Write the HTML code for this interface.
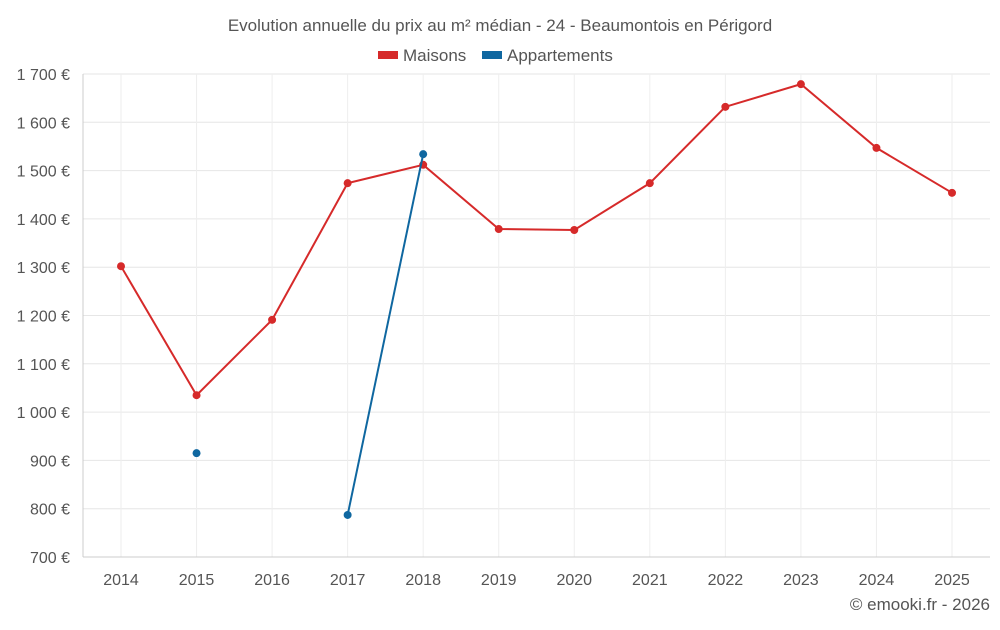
<!DOCTYPE html>
<html><head><meta charset="utf-8"><style>
body{margin:0;background:#fff;font-family:"Liberation Sans",sans-serif;}
svg text{font-family:"Liberation Sans",sans-serif;}
</style></head><body>
<svg id="chart" width="1000" height="625">
<text x="500" y="31" text-anchor="middle" font-size="17" fill="#555">Evolution annuelle du prix au m² médian - 24 - Beaumontois en Périgord</text>
<g>
<g><rect x="378" y="51" width="20" height="8" fill="#d62a2a"/><text x="403" y="61" font-size="17" fill="#555">Maisons</text></g>
<g><rect x="482" y="51" width="20" height="8" fill="#0f67a0"/><text x="507" y="61" font-size="17" fill="#555">Appartements</text></g>
</g>
<g id="grid"></g><g id="axes"></g><g id="series"></g>
<text x="990" y="610" text-anchor="end" font-size="17" fill="#555">© emooki.fr - 2026</text>
</svg>
<script>
const years=[2014,2015,2016,2017,2018,2019,2020,2021,2022,2023,2024,2025];
const maisons=[1302,1035,1191,1474,1512,1379,1377,1474,1632,1679,1547,1454];
const appartements=[null,915,null,787,1534,null,null,null,null,null,null,null];
const yTicks=[700,800,900,1000,1100,1200,1300,1400,1500,1600,1700];
const yLabels=["700 €","800 €","900 €","1 000 €","1 100 €","1 200 €","1 300 €","1 400 €","1 500 €","1 600 €","1 700 €"];
const L=83,R=990,T=74,B=557,NS="http://www.w3.org/2000/svg";
const x=i=>121+i*(952-121)/(years.length-1);
const y=v=>B-(v-700)/(1700-700)*(B-T);
function mk(t,a,p){const e=document.createElementNS(NS,t);for(const k in a)e.setAttribute(k,a[k]);p.appendChild(e);return e;}
const g=document.getElementById('grid'),ax=document.getElementById('axes'),s=document.getElementById('series');
yTicks.forEach((v,i)=>{
 const l=mk('line',{x1:L,x2:R,y1:y(v),y2:y(v),stroke:'#e6e6e6'},g);
 
 
 const t=mk('text',{x:70,y:y(v)+6,'text-anchor':'end','font-size':16,fill:'#555'},ax);
 t.textContent=yLabels[i];
 
 
});
years.forEach((yr,i)=>{
 const l=mk('line',{x1:x(i),x2:x(i),y1:T,y2:B,stroke:'#eeeeee'},g);
 
 
 const t=mk('text',{x:x(i),y:585,'text-anchor':'middle','font-size':16,fill:'#555'},ax);
 t.textContent=yr;
 
 
});
const ln=mk('line',{x1:L,x2:L,y1:T,y2:B,stroke:'#ccc'},ax);


const bl=mk('line',{x1:L,x2:R,y1:B,y2:B,stroke:'#ccc'},ax);


function draw(data,color,name){
 let d='',pen=false;
 data.forEach((v,i)=>{if(v==null){pen=false;return;}d+=(pen?'L':'M')+x(i)+' '+y(v)+' ';pen=true;});
 const p=mk('path',{d:d,fill:'none',stroke:color,'stroke-width':2},s);
 
 
 data.forEach((v,i)=>{if(v==null)return;
  const c=mk('circle',{cx:x(i),cy:y(v),r:4,fill:color},s);
  
  
 });
}
draw(maisons,'#d62a2a','maisons');
draw(appartements,'#0f67a0','appartements');
</script>
</body></html>
